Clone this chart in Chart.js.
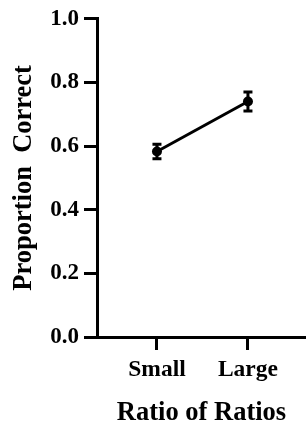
<!DOCTYPE html>
<html>
<head>
<meta charset="utf-8">
<script src="https://cdn.jsdelivr.net/npm/chart.js@4"></script>
<style>
  html, body { margin: 0; padding: 0; background: #fff; }
  #wrap { width: 306px; height: 434px; }
</style>
</head>
<body>
<div id="wrap"><canvas id="chart" width="306" height="434"></canvas></div>
<script>
const categories = ["Small", "Large"];
const means = [0.583, 0.740];
const errors = [0.023, 0.030];
const yTicks = [0, 0.2, 0.4, 0.6, 0.8, 1.0];

const serif = "'Liberation Serif', 'Times New Roman', serif";

// error bars, drawn from the y scale
const errorBars = {
  id: "errorBars",
  afterDatasetsDraw(chart) {
    const ctx = chart.ctx;
    const y = chart.scales.y;
    const meta = chart.getDatasetMeta(0);
    ctx.save();
    ctx.strokeStyle = "#000";
    ctx.lineWidth = 3;
    meta.data.forEach(function (pt, i) {
      const top = y.getPixelForValue(means[i] + errors[i]);
      const bot = y.getPixelForValue(means[i] - errors[i]);
      ctx.beginPath();
      ctx.moveTo(pt.x, top);
      ctx.lineTo(pt.x, bot);
      ctx.moveTo(pt.x - 4.5, top);
      ctx.lineTo(pt.x + 4.5, top);
      ctx.moveTo(pt.x - 4.5, bot);
      ctx.lineTo(pt.x + 4.5, bot);
      ctx.stroke();
    });
    ctx.restore();
  }
};

const chart = new Chart(document.getElementById("chart"), {
  type: "line",
  data: {
    datasets: [{
      data: means.map(function (m, i) { return { x: i + 1, y: m }; }),
      borderColor: "#000",
      backgroundColor: "#000",
      borderWidth: 3,
      pointRadius: 5,
      pointBackgroundColor: "#000",
      pointBorderWidth: 0,
      tension: 0
    }]
  },
  options: {
    responsive: false,
    animation: false,
    layout: { autoPadding: false, padding: { top: 16, right: 0, bottom: 0, left: 0 } },
    plugins: { legend: { display: false }, tooltip: { enabled: false } },
    scales: {
      x: {
        type: "linear",
        min: 0.341,
        max: 2.638,
        afterBuildTicks: function (s) { s.ticks = categories.map(function (c, i) { return { value: i + 1 }; }); },
        afterFit: function (s) { s.height = 97; s.paddingLeft = 0; s.paddingRight = 0; },
        ticks: {
          callback: function (v) { return categories[v - 1]; },
          color: "#000",
          padding: 6,
          maxRotation: 0,
          font: { family: serif, size: 23.5, weight: "bold" }
        },
        grid: { drawOnChartArea: false, drawTicks: true, tickLength: 13, tickWidth: 3, tickColor: "#000" },
        border: { display: true, width: 3, color: "#000" },
        title: {
          display: true,
          text: "Ratio of Ratios",
          color: "#000",
          padding: { top: 0, bottom: 5 },
          font: { family: serif, size: 26.5, weight: "bold" }
        }
      },
      y: {
        min: 0,
        max: 1,
        afterBuildTicks: function (s) { s.ticks = yTicks.map(function (v) { return { value: v }; }); },
        afterFit: function (s) { s.width = 97; },
        ticks: {
          callback: function (v) { return v.toFixed(1); },
          color: "#000",
          padding: 5,
          font: { family: serif, size: 23, weight: "bold" }
        },
        grid: { drawOnChartArea: false, drawTicks: true, tickLength: 13, tickWidth: 3, tickColor: "#000" },
        border: { display: true, width: 3, color: "#000" },
        title: {
          display: true,
          text: "Proportion  Correct",
          color: "#000",
          padding: { top: 8, bottom: 0 },
          font: { family: serif, size: 26.5, weight: "bold" }
        }
      }
    }
  },
  plugins: [errorBars]
});
</script>
</body>
</html>
